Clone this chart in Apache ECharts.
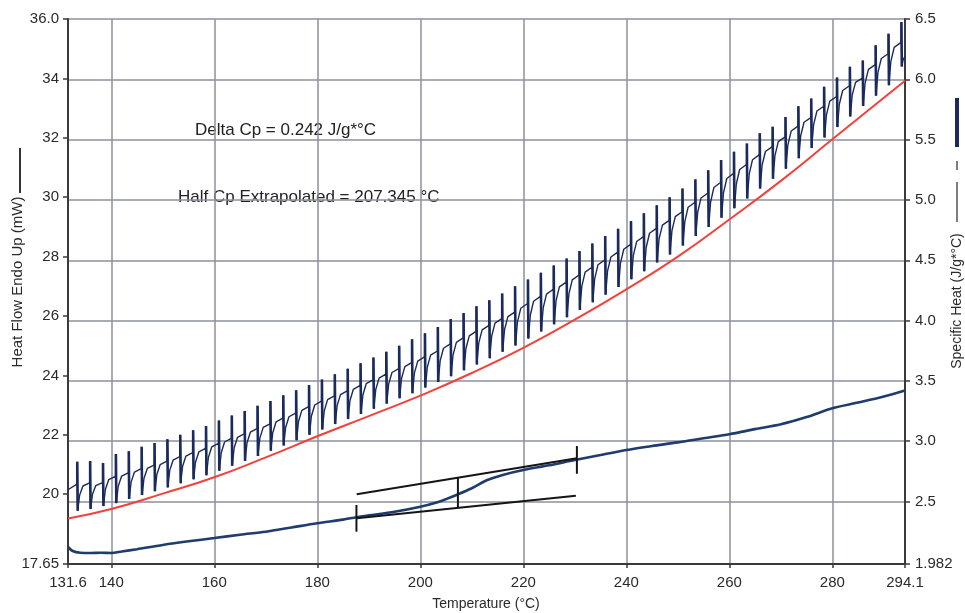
<!DOCTYPE html>
<html>
<head>
<meta charset="utf-8">
<title>Heat flow / specific heat</title>
<script src="https://cdn.jsdelivr.net/npm/echarts@6.0.0/dist/echarts.min.js"></script>
<style>
  html, body { margin: 0; padding: 0; background: #fff; }
  #chart { width: 965px; height: 613px; }
</style>
</head>
<body>
<div id="chart"></div>
<script>
// modulated heat flow, one entry per cycle (spike position, top, bottom, level just before the spike)
const spikeX = [133.4, 135.9, 138.4, 140.9, 143.4, 145.9, 148.4, 150.9, 153.4, 155.9, 158.4, 160.9, 163.4, 165.9, 168.4, 170.9,
  173.4, 175.9, 178.4, 180.9, 183.4, 185.9, 188.4, 190.9, 193.4, 195.9, 198.4, 200.9, 203.4, 205.9, 208.4, 210.9, 213.4, 215.9,
  218.4, 220.9, 223.4, 225.9, 228.4, 230.9, 233.4, 235.9, 238.4, 240.9, 243.4, 245.9, 248.4, 250.9, 253.4, 255.9, 258.4, 260.9,
  263.4, 265.9, 268.4, 270.9, 273.4, 275.9, 278.4, 280.9, 283.4, 285.9, 288.4, 290.9, 293.4];
const spikePeak = [21.09, 21.12, 21.05, 21.35, 21.45, 21.6, 21.72, 21.85, 22.0, 22.15, 22.3, 22.48, 22.65, 22.8, 22.98, 23.14,
  23.33, 23.5, 23.68, 23.86, 24.04, 24.22, 24.41, 24.6, 24.8, 25.0, 25.22, 25.42, 25.63, 25.9, 26.1, 26.33, 26.53, 26.76,
  27.0, 27.23, 27.46, 27.7, 27.94, 28.19, 28.44, 28.69, 28.94, 29.2, 29.46, 29.73, 30.0, 30.29, 30.6, 30.91, 31.25, 31.53,
  31.81, 32.15, 32.37, 32.7, 33.06, 33.32, 33.72, 34.03, 34.39, 34.6, 35.12, 35.5, 35.9];
const spikeTrough = [19.44, 19.5, 19.6, 19.7, 19.84, 19.97, 20.1, 20.23, 20.37, 20.5, 20.64, 20.79, 20.96, 21.12, 21.29, 21.46,
  21.64, 21.82, 22.0, 22.18, 22.36, 22.53, 22.7, 22.88, 23.05, 23.23, 23.4, 23.59, 23.78, 23.97, 24.17, 24.37, 24.58, 24.8,
  25.01, 25.24, 25.48, 25.72, 25.96, 26.2, 26.46, 26.72, 26.98, 27.24, 27.51, 27.8, 28.07, 28.37, 28.69, 29.0, 29.31, 29.63,
  29.96, 30.29, 30.62, 30.96, 31.31, 31.66, 32.01, 32.36, 32.72, 33.07, 33.42, 33.77, 34.4];
const cycleLevel = [20.35, 20.39, 20.4, 20.61, 20.73, 20.87, 20.99, 21.12, 21.27, 21.41, 21.55, 21.72, 21.89, 22.04, 22.22, 22.38,
  22.57, 22.74, 22.96, 23.14, 23.32, 23.49, 23.67, 23.86, 24.05, 24.24, 24.44, 24.63, 24.83, 25.07, 25.27, 25.49, 25.69, 25.92,
  26.14, 26.43, 26.67, 26.91, 27.15, 27.39, 27.65, 27.9, 28.16, 28.42, 28.68, 28.96, 29.23, 29.52, 29.84, 30.15, 30.51, 30.81,
  31.11, 31.44, 31.71, 32.04, 32.4, 32.69, 33.07, 33.4, 33.76, 34.02, 34.47, 34.84, 35.22];
const flowStart = [131.6, 20.15];
const flowEnd = [294.1, 34.75];

// baseline heat flow (red)
const baseX = [131.6, 140, 150, 160, 170, 180, 190, 200, 210, 220, 230, 240, 250, 260, 270, 280, 290, 294.1];
const baseY = [19.18, 19.5, 20.02, 20.57, 21.24, 21.95, 22.63, 23.32, 24.08, 24.93, 25.88, 26.9, 28.0, 29.25, 30.55, 31.95, 33.35, 33.92];

// specific heat (right axis)
const cpX = [131.6, 132.5, 134, 136, 138, 140, 142, 145, 150, 155, 160, 165, 170, 175, 180, 185, 187.6, 190, 195, 200, 203, 205,
  207, 210, 213, 216, 220, 225, 230, 235, 240, 245, 250, 255, 260, 265, 270, 275, 280, 285, 290, 294.1];
const cpY = [2.123, 2.09, 2.075, 2.073, 2.075, 2.073, 2.085, 2.105, 2.14, 2.17, 2.197, 2.225, 2.25, 2.285, 2.32, 2.35, 2.37, 2.385,
  2.415, 2.457, 2.49, 2.52, 2.554, 2.61, 2.678, 2.72, 2.761, 2.8, 2.844, 2.885, 2.927, 2.96, 2.99, 3.025, 3.058, 3.1, 3.14, 3.2,
  3.273, 3.32, 3.37, 3.42];

// glass transition construction lines (right axis)
const tangentUpper = [[187.65, 2.56], [230.4, 2.858]];
const tangentLower = [[187.65, 2.361], [230.2, 2.548]];
const markOnset = [[187.6, 2.25], [187.6, 2.471]];
const markEnd = [[230.4, 2.73], [230.4, 2.96]];
const markHalf = [[207.3, 2.452], [207.3, 2.698]];

const xTicks = [131.6, 140, 160, 180, 200, 220, 240, 260, 280, 294.1];
const xTickLabels = ['131.6', '140', '160', '180', '200', '220', '240', '260', '280', '294.1'];
const leftTicks = [17.65, 20, 22, 24, 26, 28, 30, 32, 34, 36];
const leftTickLabels = ['17.65', '20', '22', '24', '26', '28', '30', '32', '34', '36.0'];
const rightTicks = [1.982, 2.5, 3, 3.5, 4, 4.5, 5, 5.5, 6, 6.5];
const rightTickLabels = ['1.982', '2.5', '3.0', '3.5', '4.0', '4.5', '5.0', '5.5', '6.0', '6.5'];

const FONT = '"Liberation Sans", Arial, sans-serif';
const NAVY = '#1b2a5c';

function labelFor(ticks, labels) {
  return v => {
    const i = ticks.findIndex(t => Math.abs(t - v) < 1e-6);
    return i >= 0 ? labels[i] : '';
  };
}

// full path of the modulated signal; the spikes are drawn again thicker on top
const flowPath = [flowStart];
const spikePath = [];
spikeX.forEach((x, i) => {
  const tr = spikeTrough[i];
  const next = i + 1 < spikeX.length ? [spikeX[i + 1], cycleLevel[i + 1]] : flowEnd;
  const rise = next[1] - tr;
  flowPath.push([x, cycleLevel[i]], [x, spikePeak[i]], [x + 0.08, tr]);
  if (i + 1 < spikeX.length) {
    flowPath.push([x + 0.45, tr + rise * 0.55], [x + 1.1, tr + rise * 0.88]);
  } else {
    flowPath.push([x + 0.3, tr + rise * 0.6]);
  }
  spikePath.push([x, cycleLevel[i]], [x, spikePeak[i]], [x + 0.08, tr], [x + 0.08, '-']);
});
flowPath.push(flowEnd);

const chart = echarts.init(document.getElementById('chart'));

const axisLine = { show: true, lineStyle: { color: '#3a3a3a', width: 2 } };
const tickStyle = { color: '#3a3a3a', width: 1.5 };

const option = {
  animation: false,
  backgroundColor: '#fff',
  grid: { left: 68, right: 60, top: 19, bottom: 49, containLabel: false, outerBoundsMode: 'none' },
  xAxis: {
    type: 'value',
    min: 131.6,
    max: 294.1,
    axisLine: axisLine,
    axisTick: { show: true, customValues: xTicks, length: 4, lineStyle: tickStyle },
    axisLabel: {
      customValues: xTicks, formatter: labelFor(xTicks, xTickLabels),
      color: '#2a2a2a', fontSize: 15, fontFamily: FONT, margin: 11, hideOverlap: false
    },
    splitLine: { show: true, lineStyle: { color: '#8c909c', width: 1.5 } }
  },
  yAxis: [
    {
      type: 'value',
      min: 17.65,
      max: 36,
      position: 'left',
      axisLine: axisLine,
      axisTick: { show: true, customValues: leftTicks, length: 5, lineStyle: tickStyle },
      axisLabel: {
        customValues: leftTicks, formatter: labelFor(leftTicks, leftTickLabels),
        color: '#2a2a2a', fontSize: 15, fontFamily: FONT, margin: 9, hideOverlap: false
      },
      splitLine: { show: false }
    },
    {
      type: 'value',
      min: 1.982,
      max: 6.5,
      position: 'right',
      axisLine: axisLine,
      axisTick: { show: true, customValues: rightTicks, length: 5, lineStyle: tickStyle },
      axisLabel: {
        customValues: rightTicks, formatter: labelFor(rightTicks, rightTickLabels),
        color: '#2a2a2a', fontSize: 15, fontFamily: FONT, margin: 10, hideOverlap: false
      },
      splitLine: { show: true, lineStyle: { color: '#8c909c', width: 1.5 } }
    }
  ],
  series: [
    {
      name: 'Baseline', type: 'line', yAxisIndex: 0, smooth: true, symbol: 'none',
      data: baseX.map((x, i) => [x, baseY[i]]),
      lineStyle: { color: '#f2413a', width: 2 }, z: 3
    },
    {
      name: 'Heat Flow', type: 'line', yAxisIndex: 0, symbol: 'none',
      data: flowPath,
      lineStyle: { color: NAVY, width: 1.4 }, z: 4
    },
    {
      name: 'Spikes', type: 'line', yAxisIndex: 0, symbol: 'none', connectNulls: false,
      data: spikePath,
      lineStyle: { color: NAVY, width: 2.6 }, z: 5
    },
    {
      name: 'Specific Heat', type: 'line', yAxisIndex: 1, smooth: 0.3, symbol: 'none',
      data: cpX.map((x, i) => [x, cpY[i]]),
      lineStyle: { color: '#1f3c6c', width: 2.6 }, z: 4
    },
    ...[tangentUpper, tangentLower, markOnset, markEnd, markHalf].map(seg => ({
      type: 'line', yAxisIndex: 1, symbol: 'none', data: seg,
      lineStyle: { color: '#151515', width: 2 }, z: 6
    }))
  ],
  graphic: [
    { type: 'text', x: 195, y: 130, style: { text: 'Delta Cp = 0.242 J/g*°C', font: '17px ' + FONT, fill: '#222', verticalAlign: 'middle' } },
    { type: 'text', x: 178, y: 197, style: { text: 'Half Cp Extrapolated = 207.345 °C', font: '17px ' + FONT, fill: '#222', verticalAlign: 'middle' } },
    { type: 'text', x: 486, y: 604, style: { text: 'Temperature (°C)', font: '14px ' + FONT, fill: '#2a2a2a', align: 'center', verticalAlign: 'middle' } },
    { type: 'text', x: 18, y: 282, rotation: Math.PI / 2, style: { text: 'Heat Flow Endo Up (mW)', font: '15px ' + FONT, fill: '#2a2a2a', align: 'center', verticalAlign: 'middle' } },
    { type: 'line', shape: { x1: 20, y1: 148, x2: 20, y2: 193 }, style: { stroke: '#333', lineWidth: 2 } },
    { type: 'text', x: 957, y: 301, rotation: Math.PI / 2, style: { text: 'Specific Heat (J/g*°C)', font: '14px ' + FONT, fill: '#2a2a2a', align: 'center', verticalAlign: 'middle' } },
    { type: 'line', shape: { x1: 957, y1: 182, x2: 957, y2: 222 }, style: { stroke: '#555', lineWidth: 1.5 } },
    { type: 'line', shape: { x1: 957, y1: 161, x2: 957, y2: 170 }, style: { stroke: '#555', lineWidth: 1.5 } },
    { type: 'line', shape: { x1: 957, y1: 98, x2: 957, y2: 147 }, style: { stroke: NAVY, lineWidth: 4 } }
  ]
};

chart.setOption(option);
</script>
</body>
</html>
